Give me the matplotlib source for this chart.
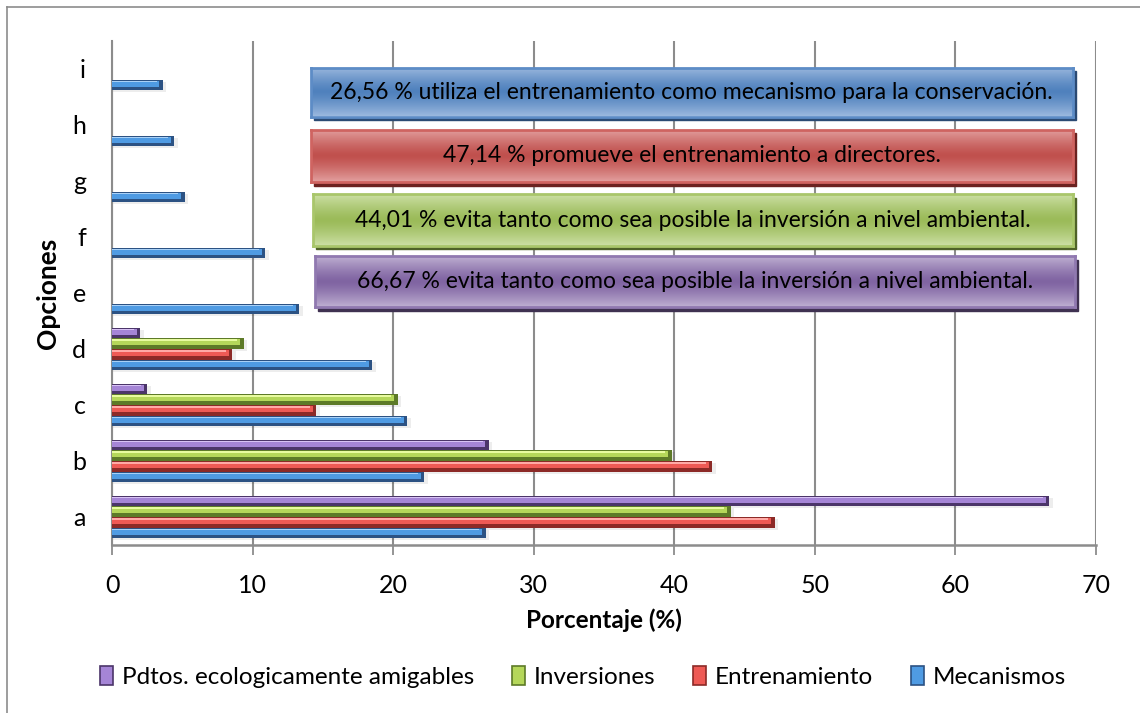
import numpy as np
import matplotlib
matplotlib.use("Agg")
import matplotlib.pyplot as plt
from matplotlib.patches import Patch, Rectangle

plt.rcParams['font.family'] = ['Lato', 'DejaVu Sans']

categories = ['a', 'b', 'c', 'd', 'e', 'f', 'g', 'h', 'i']
mecanismos = [26.56, 22.2, 21.0, 18.5, 13.3, 10.9, 5.15, 4.4, 3.6]
entrenamiento = [47.14, 42.7, 14.5, 8.55, 0, 0, 0, 0, 0]
inversiones = [44.01, 39.8, 20.3, 9.35, 0, 0, 0, 0, 0]
pdtos = [66.67, 26.8, 2.5, 2.0, 0, 0, 0, 0, 0]

series_names = ['Mecanismos', 'Entrenamiento', 'Inversiones', 'Pdtos. ecologicamente amigables']
series_values = [mecanismos, entrenamiento, inversiones, pdtos]
# (light highlight, bright, dark)
series_colors = [
    ('#a9d1f7', '#4f9be3', '#2c5283'),
    ('#ffaaa6', '#ee5a55', '#8c2a27'),
    ('#e8fba0', '#b5d75a', '#5d7a28'),
    ('#d8c2f5', '#a585d6', '#4b3569'),
]
box_texts = [
    '26,56 % utiliza el entrenamiento como mecanismo para la conservación.',
    '47,14 % promueve el entrenamiento a directores.',
    '44,01 % evita tanto como sea posible la inversión a nivel ambiental.',
    '66,67 % evita tanto como sea posible la inversión a nivel ambiental.',
]
box_colors = [
    ('#9bb8de', '#4f81bd', '#2b4a73', '#5d8cc6'),
    ('#e3a09f', '#c0504d', '#6b2220', '#cf6461'),
    ('#cde0a6', '#9bbb59', '#4f6228', '#a9c66b'),
    ('#bfb0d2', '#8064a2', '#3f3151', '#9079b0'),
]
legend_order = [3, 2, 1, 0]
x_ticks = [0, 10, 20, 30, 40, 50, 60, 70]

W, H = 1140, 713
fig = plt.figure(figsize=(W / 100, H / 100), dpi=100)

# outer chart border
fig.add_artist(plt.Line2D([7 / W, 7 / W], [0, 1 - 7 / H], color='#8c8c8c', lw=1.2))
fig.add_artist(plt.Line2D([7 / W, 1], [1 - 7 / H, 1 - 7 / H], color='#8c8c8c', lw=1.2))

ax = fig.add_axes([112.3 / W, 1 - 545 / H, (1096 - 112.3) / W, (545 - 41) / H])
y = np.arange(len(categories))
bh = 0.19
for k, (vals, (lc, mc, dc)) in enumerate(zip(series_values, series_colors)):
    off = (k - 1.5) * bh
    vals = np.array(vals)
    mask = vals > 0
    yy = y[mask] + off
    vv = vals[mask]
    # soft shadow
    ax.barh(yy - 0.035, vv + 0.25, height=bh, left=0, color='#000000', alpha=0.07, zorder=2, linewidth=0)
    # dark base
    ax.barh(yy, vv, height=bh, color=dc, zorder=3, linewidth=0)
    # bright middle
    ax.barh(yy + bh * 0.12, vv - 0.25, height=bh * 0.55, color=mc, zorder=4, linewidth=0)
    # highlight
    ax.barh(yy + bh * 0.33, vv - 0.45, height=bh * 0.14, color=lc, zorder=5, linewidth=0)

ax.set_xlim(0, 70)
ax.set_ylim(-0.5, len(categories) - 0.5)
ax.set_xticks(x_ticks)
ax.set_xticklabels([str(t) for t in x_ticks], fontsize=18)
ax.set_yticks(y)
ax.set_yticklabels(categories, fontsize=18)
ax.tick_params(axis='y', length=0, pad=19)
ax.tick_params(axis='x', direction='out', length=7, width=1.3, color='#8c8c8c', pad=14)
ax.grid(axis='x', color='#8c8c8c', lw=1.5, zorder=0)
ax.set_axisbelow(True)
for s in ['top', 'right']:
    ax.spines[s].set_visible(False)
ax.spines['left'].set_color('#8c8c8c')
ax.spines['left'].set_linewidth(1.5)
ax.spines['bottom'].set_color('#8c8c8c')
ax.spines['bottom'].set_linewidth(1.8)
ax.set_xlabel('Porcentaje (%)', fontsize=17.5, fontweight='bold', labelpad=8)
ax.set_ylabel('Opciones', fontsize=19, fontweight='bold')
ax.yaxis.set_label_coords(-(112.3 - 60) / (1096 - 112.3), 0.5)

# annotation boxes (pixel layout)
box_px = [(310.7, 67.7, 1072.7, 116.5), (310.7, 129.5, 1072.7, 182.0),
          (312.7, 194.3, 1072.7, 246.0), (314.7, 256.3, 1074.7, 307.0)]
for (x0, y0, x1, y1), txt, (lc, mc, dc, ec) in zip(box_px, box_texts, box_colors):
    # shadow
    fig.add_artist(Rectangle(((x0 + 3) / W, 1 - (y1 + 3.5) / H), (x1 - x0) / W, (y1 - y0) / H,
                             transform=fig.transFigure, color=dc, zorder=5))
    bax = fig.add_axes([x0 / W, 1 - y1 / H, (x1 - x0) / W, (y1 - y0) / H], zorder=6)
    t = np.linspace(0, 1, 100)
    prof = np.abs(t - 0.5) * 2
    prof = prof ** 1.3
    c_l = np.array(matplotlib.colors.to_rgb(lc))
    c_m = np.array(matplotlib.colors.to_rgb(mc))
    img = (c_m[None, :] * (1 - prof[:, None]) + c_l[None, :] * prof[:, None])
    bax.imshow(img[:, None, :], aspect='auto', extent=[0, 1, 0, 1], interpolation='bilinear')
    bax.set_xlim(0, 1)
    bax.set_ylim(0, 1)
    bax.set_xticks([])
    bax.set_yticks([])
    for s in bax.spines.values():
        s.set_color(ec)
        s.set_linewidth(2)
    bax.text(0.5, 0.5, txt, ha='center', va='center', fontsize=16.5, color='black')

handles = [Patch(facecolor=series_colors[i][1], edgecolor=series_colors[i][2], linewidth=1.2)
           for i in legend_order]
labels = [series_names[i] for i in legend_order]
fig.legend(handles, labels, loc='center', bbox_to_anchor=(583 / W, 1 - 677 / H), ncol=4,
           frameon=False, fontsize=17.5, handlelength=0.55, handleheight=0.85,
           handletextpad=0.35, columnspacing=1.55)

fig.savefig('out.png', dpi=100)
